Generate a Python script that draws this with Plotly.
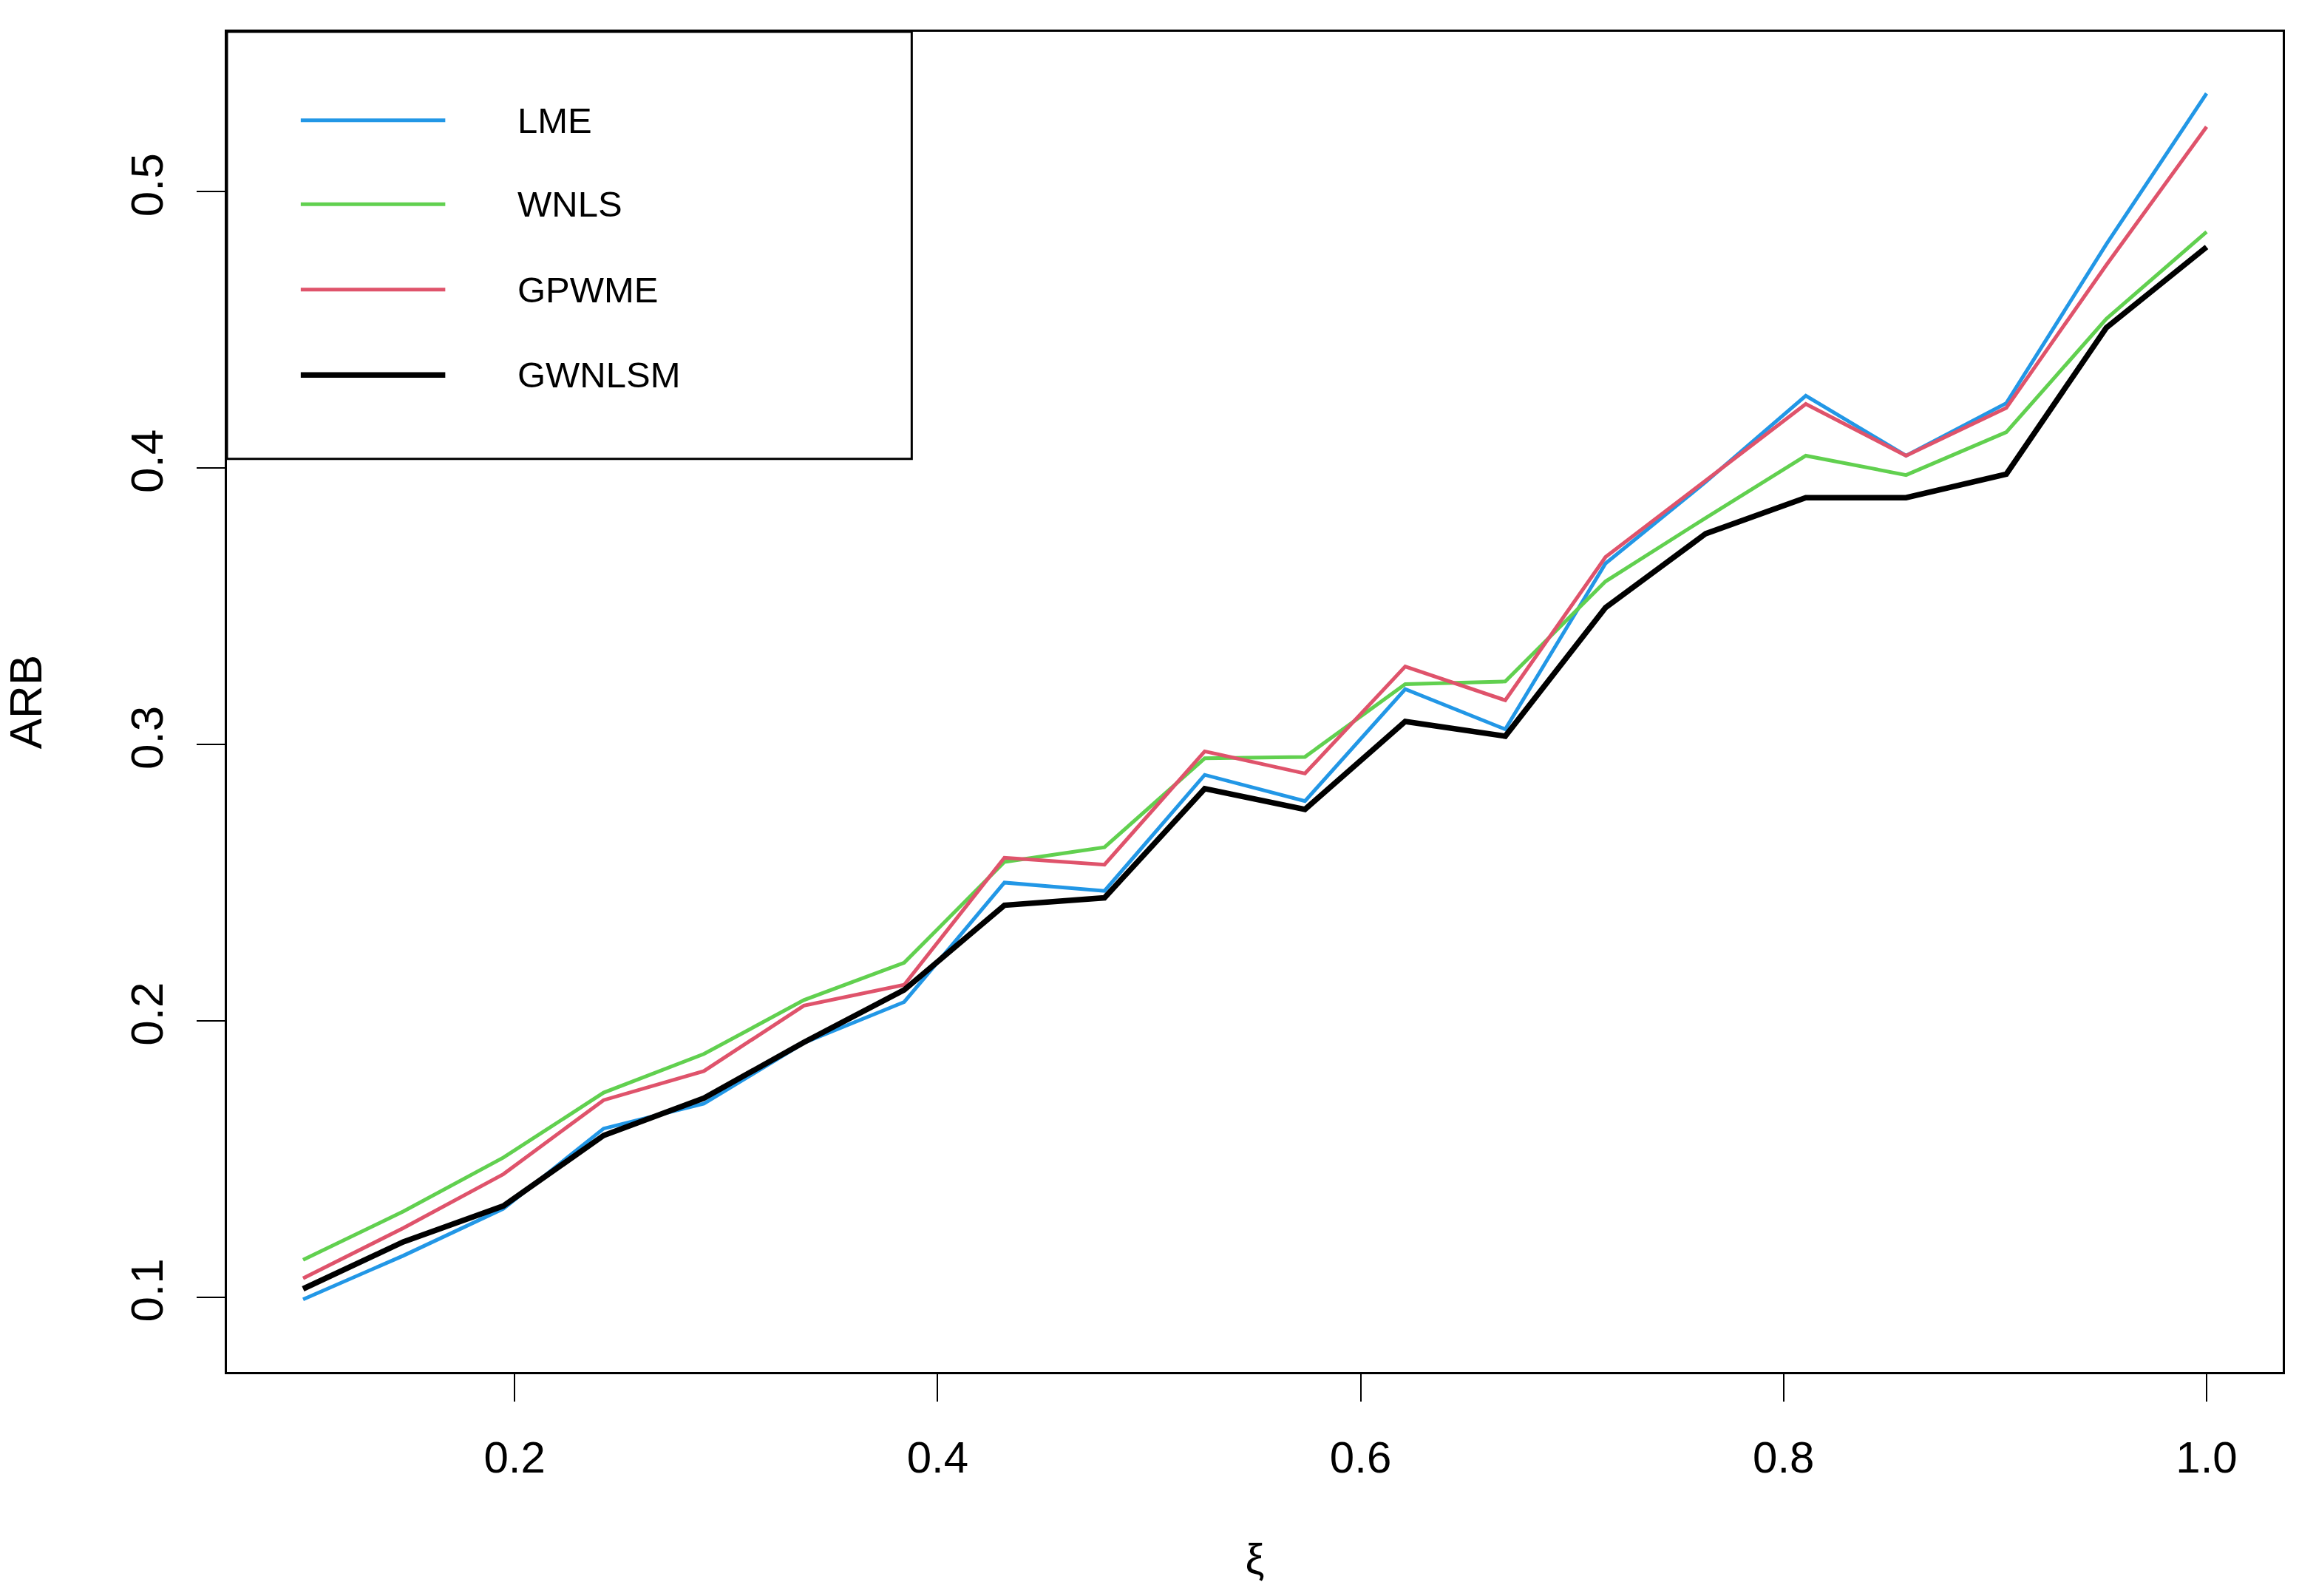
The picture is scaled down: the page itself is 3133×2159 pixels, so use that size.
import plotly.graph_objects as go

# ---- data ----
xi = [0.1, 0.1474, 0.1947, 0.2421, 0.2895, 0.3368, 0.3842, 0.4316, 0.4789, 0.5263,
      0.5737, 0.6211, 0.6684, 0.7158, 0.7632, 0.8105, 0.8579, 0.9053, 0.9526, 1.0]

lme = [0.0992, 0.1150, 0.1320, 0.1610, 0.1700, 0.1920, 0.2068, 0.2500, 0.2470, 0.2890,
       0.2795, 0.3200, 0.3055, 0.3655, 0.3950, 0.4262, 0.4045, 0.4235, 0.4810, 0.5356]
wnls = [0.1135, 0.1310, 0.1505, 0.1740, 0.1880, 0.2075, 0.2210, 0.2575, 0.2628, 0.2950,
        0.2955, 0.3218, 0.3228, 0.3590, 0.3820, 0.4045, 0.3975, 0.4130, 0.4540, 0.4855]
gpwme = [0.1068, 0.1250, 0.1445, 0.1713, 0.1818, 0.2055, 0.2130, 0.2590, 0.2565, 0.2975,
         0.2895, 0.3282, 0.3160, 0.3678, 0.3955, 0.4232, 0.4045, 0.4218, 0.4735, 0.5235]
gwnlsm = [0.1030, 0.1200, 0.1330, 0.1585, 0.1720, 0.1922, 0.2112, 0.2418, 0.2445, 0.2840,
          0.2765, 0.3083, 0.3030, 0.3495, 0.3763, 0.3893, 0.3893, 0.3978, 0.4508, 0.4800]

series_names = ["LME", "WNLS", "GPWME", "GWNLSM"]
series_values = [lme, wnls, gpwme, gwnlsm]
colors = ["#2297E6", "#61D04F", "#DF536B", "#000000"]
widths = [5, 5, 5, 7.5]

x_ticks = [0.2, 0.4, 0.6, 0.8, 1.0]
x_ticktext = ["0.2", "0.4", "0.6", "0.8", "1.0"]
y_ticks = [0.1, 0.2, 0.3, 0.4, 0.5]
y_ticktext = ["0.1", "0.2", "0.3", "0.4", "0.5"]

FONT = "Liberation Sans, Arial, sans-serif"

fig = go.Figure()
for name, vals, c, w in zip(series_names, series_values, colors, widths):
    fig.add_trace(go.Scatter(x=xi, y=vals, mode="lines", name=name,
                             line=dict(color=c, width=w), showlegend=False))

W, H = 3133, 2159
L, R, T, B = 307, 45, 43, 303

shapes = []
annotations = []
# legend box (paper coordinates, relative to plot area)
shapes.append(dict(type="rect", xref="paper", yref="paper",
                   x0=0, x1=0.3331, y0=0.6813, y1=1,
                   line=dict(color="black", width=3), fillcolor="white", layer="above"))
rows = [0.934, 0.8714, 0.8077, 0.744]
for name, c, w, r in zip(series_names, colors, widths, rows):
    shapes.append(dict(type="line", xref="paper", yref="paper",
                       x0=0.0359, x1=0.1062, y0=r, y1=r,
                       line=dict(color=c, width=w), layer="above"))
    annotations.append(dict(xref="paper", yref="paper", x=0.1407, y=r,
                            xanchor="left", yanchor="middle", showarrow=False,
                            text=name, font=dict(family=FONT, size=49, color="black")))

fig.update_layout(
    width=W, height=H,
    margin=dict(l=L, r=R, t=T, b=B, pad=0),
    paper_bgcolor="white", plot_bgcolor="white",
    font=dict(family=FONT, color="black"),
    shapes=shapes, annotations=annotations,
    xaxis=dict(range=[0.064, 1.036], tickvals=x_ticks, ticktext=x_ticktext,
               showgrid=False, zeroline=False, showline=True, mirror=True,
               linecolor="black", linewidth=3, ticks="outside", ticklen=37,
               tickwidth=2, tickcolor="black", ticklabelstandoff=24,
               tickfont=dict(size=60, family=FONT),
               title=dict(text="ξ", font=dict(size=58, family=FONT), standoff=85)),
    yaxis=dict(range=[0.0729, 0.5579], tickvals=y_ticks, ticktext=y_ticktext,
               showgrid=False, zeroline=False, showline=True, mirror=True,
               linecolor="black", linewidth=3, ticks="outside", ticklen=38,
               tickwidth=2, tickcolor="black", tickangle=-90, ticklabelstandoff=21,
               tickfont=dict(size=62, family=FONT),
               title=dict(text="ARB", font=dict(size=62, family=FONT), standoff=95)),
)

fig.write_html("out.html", config={"displayModeBar": False})

# remove the default page margin so the figure sits at the window origin
with open("out.html", "r", encoding="utf-8") as f:
    html = f.read()
html = html.replace("<body>", '<body style="margin:0;">', 1)
with open("out.html", "w", encoding="utf-8") as f:
    f.write(html)
